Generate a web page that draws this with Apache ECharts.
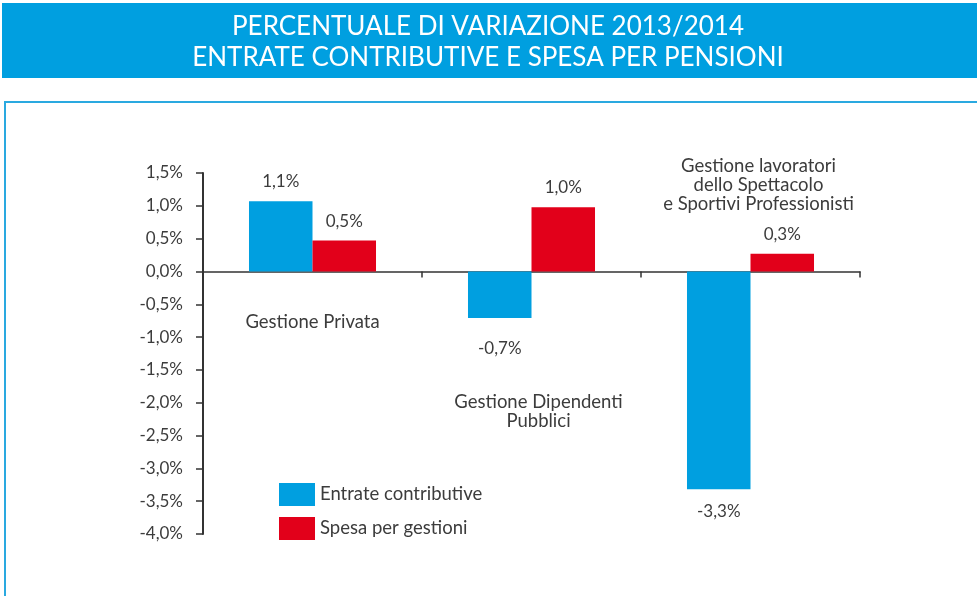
<!DOCTYPE html>
<html>
<head>
<meta charset="utf-8">
<script src="https://cdn.jsdelivr.net/npm/echarts@6/dist/echarts.min.js"></script>
<style>
  html, body { margin: 0; padding: 0; background: #fff; }
  #main { width: 977px; height: 596px; }
</style>
</head>
<body>
<div id="main"></div>
<script>
var categories = ['Gestione Privata', 'Gestione Dipendenti\nPubblici', 'Gestione lavoratori\ndello Spettacolo\ne Sportivi Professionisti'];
var entrate = [1.07, -0.71, -3.32];
var spesa = [0.47, 0.98, 0.27];
var entrateLabels = ['1,1%', '-0,7%', '-3,3%'];
var spesaLabels = ['0,5%', '1,0%', '0,3%'];
var yTicks = { min: -4, max: 1.5, step: 0.5 };

var FONT = 'Lato, "Open Sans", sans-serif';
var TEXT = '#3c3c3c';
var BLUE = '#009fe0';
var RED = '#e2001a';

// where the category names sit (pixel offset from the category centre / from the zero line)
var catLabelPos = [
    { dx: 0, dy: 51 },
    { dx: 7, dy: 140 },
    { dx: 8, dy: -86 }
];

function pct(v) {
    return v.toFixed(1).replace('.', ',') + '%';
}

function barData(values, labels, negDist) {
    return values.map(function(v, i) {
        return {
            value: v,
            label: {
                show: true,
                position: v >= 0 ? 'top' : 'bottom',
                distance: v >= 0 ? 11 : negDist[i],
                formatter: labels[i]
            }
        };
    });
}

var myChart = echarts.init(document.getElementById('main'));

var option = {
    backgroundColor: '#fff',
    animation: false,
    textStyle: { fontFamily: FONT },
    grid: { left: 203, right: 117, top: 173, bottom: 62 },
    legend: {
        orient: 'vertical',
        left: 279,
        top: 483,
        padding: 0,
        itemWidth: 36,
        itemHeight: 23,
        itemGap: 11,
        icon: 'rect',
        textStyle: { fontFamily: FONT, fontSize: 18.5, color: TEXT },
        data: ['Entrate contributive', 'Spesa per gestioni']
    },
    xAxis: {
        type: 'category',
        data: categories,
        axisLine: { onZero: true, lineStyle: { color: '#333', width: 1.5 } },
        axisTick: { show: true, length: 6, lineStyle: { color: '#333', width: 1.5 } },
        axisLabel: { show: false },
        splitLine: { show: false }
    },
    yAxis: {
        type: 'value',
        min: yTicks.min,
        max: yTicks.max,
        interval: yTicks.step,
        axisLine: { show: true, lineStyle: { color: '#333', width: 2 } },
        axisTick: { show: true, length: 7, lineStyle: { color: '#333', width: 1.5 } },
        axisLabel: {
            margin: 20,
            fontSize: 17,
            fontFamily: FONT,
            color: TEXT,
            formatter: pct
        },
        splitLine: { show: false }
    },
    series: [
        {
            name: 'Entrate contributive',
            type: 'bar',
            barGap: '0%',
            barCategoryGap: '42%',
            itemStyle: { color: BLUE },
            label: { fontSize: 17, color: TEXT, fontFamily: FONT },
            data: barData(entrate, entrateLabels, [14, 22, 14])
        },
        {
            name: 'Spesa per gestioni',
            type: 'bar',
            itemStyle: { color: RED },
            label: { fontSize: 17, color: TEXT, fontFamily: FONT },
            data: barData(spesa, spesaLabels, [14, 14, 14])
        }
    ],
    graphic: [
        // title banner
        {
            type: 'rect',
            shape: { x: 2, y: 3, width: 975, height: 75 },
            style: { fill: BLUE },
            silent: true
        },
        {
            type: 'text',
            x: 488, y: 42,
            style: {
                text: 'PERCENTUALE DI VARIAZIONE 2013/2014\nENTRATE CONTRIBUTIVE E SPESA PER PENSIONI',
                fill: '#fff',
                font: '400 26px ' + FONT,
                lineHeight: 31,
                align: 'center',
                verticalAlign: 'middle'
            },
            silent: true
        },
        // frame
        {
            type: 'polyline',
            shape: { points: [[5, 596], [5, 102], [977, 102]] },
            style: { stroke: '#2aa9e0', lineWidth: 2, fill: null },
            silent: true
        }
    ]
};

myChart.setOption(option);

// category names placed from the chart's own scales
var zeroY = myChart.convertToPixel({ yAxisIndex: 0 }, 0);
var nameGraphics = categories.map(function(name, i) {
    var cx = myChart.convertToPixel({ xAxisIndex: 0 }, i);
    return {
        type: 'text',
        x: cx + catLabelPos[i].dx,
        y: zeroY + catLabelPos[i].dy,
        style: {
            text: name,
            fill: TEXT,
            font: '18.5px ' + FONT,
            lineHeight: 19,
            align: 'center',
            verticalAlign: 'middle'
        },
        silent: true
    };
});
myChart.setOption({ graphic: option.graphic.concat(nameGraphics) });
</script>
</body>
</html>
